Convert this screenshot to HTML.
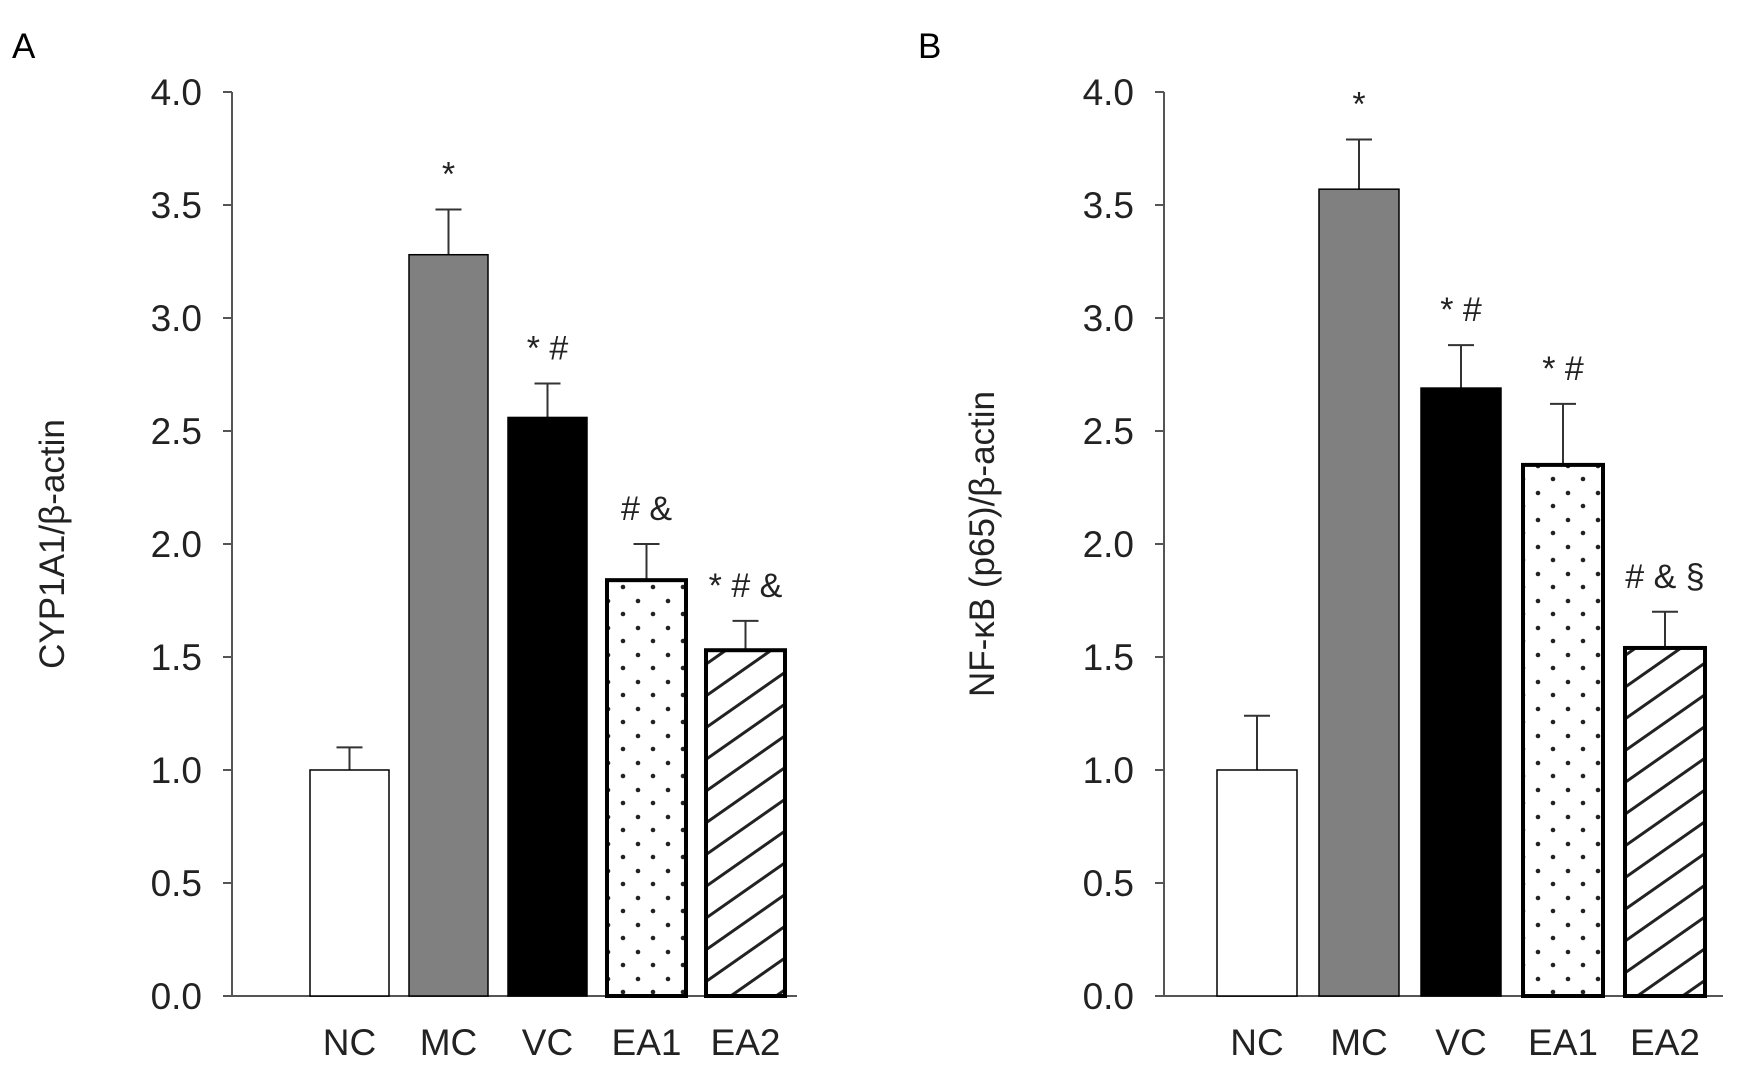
<!DOCTYPE html>
<html><head><meta charset="utf-8"><style>
html,body{margin:0;padding:0;background:#fff;}
svg{display:block;font-family:"Liberation Sans",Arial,sans-serif;}
</style></head><body>
<svg id="chart" width="1755" height="1066" viewBox="0 0 1755 1066" xmlns="http://www.w3.org/2000/svg">
<defs>
<pattern id="dots" patternUnits="userSpaceOnUse" width="30" height="27">
<circle cx="8" cy="7" r="2.3" fill="#222"/><circle cx="23" cy="20" r="2.3" fill="#222"/>
</pattern>
<pattern id="hatch" patternUnits="userSpaceOnUse" width="26" height="26" patternTransform="rotate(-35)">
<line x1="0" y1="13" x2="26" y2="13" stroke="#222" stroke-width="3"/>
</pattern>
</defs>
</svg>
<script>
const categories = ["NC","MC","VC","EA1","EA2"];
const valuesA = [1.0, 3.28, 2.56, 1.84, 1.53];
const errorsA = [0.10, 0.20, 0.15, 0.16, 0.13];
const labelsA = ["", "*", "* #", "# &", "* # &"];
const valuesB = [1.0, 3.57, 2.69, 2.35, 1.54];
const errorsB = [0.24, 0.22, 0.19, 0.27, 0.16];
const labelsB = ["", "*", "* #", "* #", "# & §"];
const ticks = [0, 0.5, 1.0, 1.5, 2.0, 2.5, 3.0, 3.5, 4.0];
const tickLabels = ["0.0","0.5","1.0","1.5","2.0","2.5","3.0","3.5","4.0"];
const fills = ["#fff","#808080","#000","url(#dots)","url(#hatch)"];

const svg = document.getElementById('chart');
const NS = "http://www.w3.org/2000/svg";
function mk(tag, attrs, text){
  const e = document.createElementNS(NS, tag);
  for (const k in attrs) e.setAttribute(k, attrs[k]);
  if (text !== undefined) e.textContent = text;
  svg.appendChild(e);
  return e;
}
function panel(p){
  const y = v => p.y0 - (v/4)*(p.y0 - p.y4);
  const x = i => p.barStart + i*p.step;
  let e = mk('text',{x:p.letterX,y:58,'font-size':35}, p.letter);
  
  
  e = mk('line',{x1:p.ax,y1:p.y4,x2:p.ax,y2:p.y0,stroke:'#555','stroke-width':2});
  
  
  e = mk('line',{x1:p.ax,y1:p.y0,x2:p.axEnd,y2:p.y0,stroke:'#555','stroke-width':2});
  
  
  ticks.forEach((t,i)=>{
    const l = mk('line',{x1:p.ax-9,y1:y(t),x2:p.ax,y2:y(t),stroke:'#555','stroke-width':2});
    
    
    const tx = mk('text',{x:p.ax-30,y:y(t)+13,'font-size':37,'text-anchor':'end',fill:'#222'}, tickLabels[i]);
    
    
  });
  const yl = mk('text',{x:0,y:0,'font-size':35,'text-anchor':'middle',fill:'#222',transform:`translate(${p.titleX},${(p.y0+p.y4)/2}) rotate(-90)`}, p.title);
  
  
  categories.forEach((c,i)=>{
    const bx = x(i), top = y(p.vals[i]), cx = bx + p.bw/2;
    const et = y(p.vals[i]+p.errs[i]);
    const el = mk('line',{x1:cx,y1:et,x2:cx,y2:top,stroke:'#333','stroke-width':2});
    
    
    const ec = mk('line',{x1:cx-13,y1:et,x2:cx+13,y2:et,stroke:'#333','stroke-width':2});
    
    
    const sw = i>=3 ? 4 : 1.5;
    const r = mk('rect',{x:bx,y:top,width:p.bw,height:p.y0-top,fill:fills[i],stroke:'#000','stroke-width':sw});
    
    
    const cl = mk('text',{x:cx,y:p.y0+59,'font-size':37,'text-anchor':'middle',fill:'#222'}, c);
    
    
    if (p.labs[i]) {
      const sl = mk('text',{x:cx,y:et-24,'font-size':34,'text-anchor':'middle',fill:'#222','xml:space':'preserve'}, p.labs[i]);
      
      
    }
  });
}
panel({id:'a',letter:'A',letterX:12,ax:232,axEnd:797,y0:996,y4:92,barStart:310,step:99,bw:79,
  vals:valuesA,errs:errorsA,labs:labelsA,title:'CYP1A1/β-actin',titleX:64});
panel({id:'b',letter:'B',letterX:918,ax:1164,axEnd:1723,y0:996,y4:92,barStart:1217,step:102,bw:80,
  vals:valuesB,errs:errorsB,labs:labelsB,title:'NF-κB (p65)/β-actin',titleX:994});
</script>
</body></html>
